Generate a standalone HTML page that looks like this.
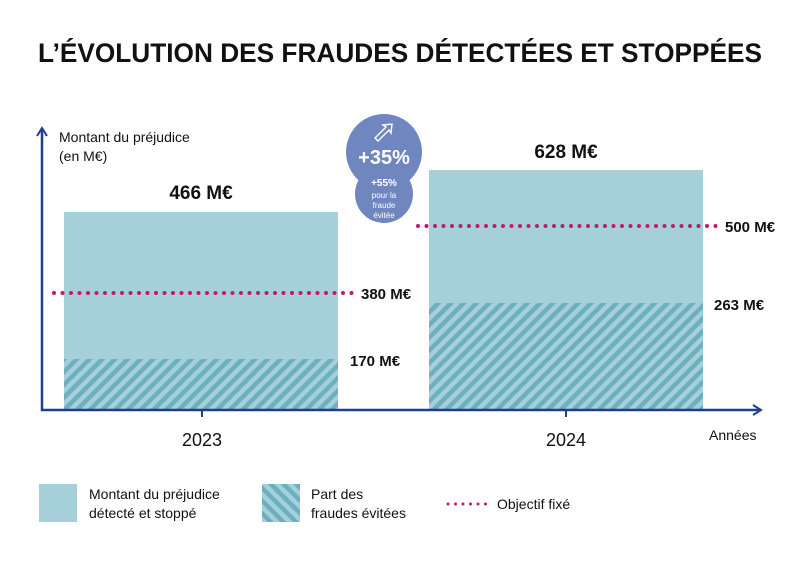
<!DOCTYPE html>
<html><head><meta charset="utf-8"><style>
body{margin:0;background:#fff;}
svg{display:block;font-family:"Liberation Sans",sans-serif;}
</style></head><body>
<svg width="800" height="561" viewBox="0 0 800 561" xmlns="http://www.w3.org/2000/svg">
<defs>
<pattern id="h1" width="9" height="9" patternUnits="userSpaceOnUse" patternTransform="rotate(45)">
<rect width="9" height="9" fill="#a5d0da"/><rect width="4.5" height="9" fill="#6cb0bf"/>
</pattern>
<pattern id="h2" width="9" height="9" patternUnits="userSpaceOnUse" patternTransform="rotate(-45)">
<rect width="9" height="9" fill="#a5d0da"/><rect width="4.5" height="9" fill="#6cb0bf"/>
</pattern>
</defs>
<rect width="800" height="561" fill="#fff"/>
<text x="38" y="62" textLength="724" lengthAdjust="spacingAndGlyphs" font-size="27" font-weight="bold" fill="#111">L’ÉVOLUTION DES FRAUDES DÉTECTÉES ET STOPPÉES</text>
<rect x="64" y="212" width="274" height="198" fill="#a5d0da"/>
<rect x="64" y="359" width="274" height="51" fill="url(#h1)"/>
<rect x="429" y="170" width="274" height="240" fill="#a5d0da"/>
<rect x="429" y="303" width="274" height="107" fill="url(#h1)"/>
<line x1="42" y1="130" x2="42" y2="411" stroke="#1f3e8c" stroke-width="2.5"/>
<polyline points="37,136 42,128 47,136" fill="none" stroke="#1f3e8c" stroke-width="2"/>
<line x1="41" y1="410" x2="760" y2="410" stroke="#1f3e8c" stroke-width="2.5"/>
<polyline points="753,405 761,410 753,415" fill="none" stroke="#1f3e8c" stroke-width="2"/>
<line x1="202" y1="410" x2="202" y2="417" stroke="#1f3e8c" stroke-width="2"/>
<line x1="566" y1="410" x2="566" y2="417" stroke="#1f3e8c" stroke-width="2"/>
<line x1="54" y1="293" x2="352" y2="293" stroke="#c0196f" stroke-width="4" stroke-linecap="round" stroke-dasharray="0 8.5"/>
<line x1="418" y1="226" x2="716" y2="226" stroke="#c0196f" stroke-width="4" stroke-linecap="round" stroke-dasharray="0 8.5"/>
<text x="59" y="142" font-size="14" fill="#111">Montant du préjudice</text>
<text x="59" y="161" font-size="14" fill="#111">(en M€)</text>
<text x="201" y="199" text-anchor="middle" font-size="19" font-weight="bold" fill="#111">466 M€</text>
<text x="566" y="158" text-anchor="middle" font-size="19" font-weight="bold" fill="#111">628 M€</text>
<text x="361" y="299" font-size="15" font-weight="bold" fill="#111">380 M€</text>
<text x="350" y="366" font-size="15" font-weight="bold" fill="#111">170 M€</text>
<text x="725" y="232" font-size="15" font-weight="bold" fill="#111">500 M€</text>
<text x="714" y="310" font-size="15" font-weight="bold" fill="#111">263 M€</text>
<text x="202" y="446" text-anchor="middle" font-size="18" fill="#111">2023</text>
<text x="566" y="446" text-anchor="middle" font-size="18" fill="#111">2024</text>
<text x="709" y="440" font-size="14" fill="#111">Années</text>
<circle cx="384" cy="194" r="29" fill="#6f86be"/>
<circle cx="384" cy="152" r="38" fill="#6f86be"/>
<g fill="none" stroke="#fff" stroke-width="1.4">
<polygon points="375,138 386,127 383,125 392,124 391,133 389,130 378,141"/>
</g>
<text x="384" y="164" text-anchor="middle" font-size="20" font-weight="bold" fill="#fff">+35%</text>
<text x="384" y="186" text-anchor="middle" font-size="10" font-weight="bold" fill="#fff">+55%</text>
<text x="384" y="198" text-anchor="middle" font-size="8" fill="#fff">pour la</text>
<text x="384" y="208" text-anchor="middle" font-size="8" fill="#fff">fraude</text>
<text x="384" y="218" text-anchor="middle" font-size="8" fill="#fff">évitée</text>
<rect x="39" y="484" width="38" height="38" fill="#a5d0da"/>
<text x="89" y="499" font-size="14" fill="#111">Montant du préjudice</text>
<text x="89" y="518" font-size="14" fill="#111">détecté et stoppé</text>
<rect x="262" y="484" width="38" height="38" fill="url(#h2)"/>
<text x="311" y="499" font-size="14" fill="#111">Part des</text>
<text x="311" y="518" font-size="14" fill="#111">fraudes évitées</text>
<line x1="448" y1="504" x2="486" y2="504" stroke="#c0196f" stroke-width="3" stroke-linecap="round" stroke-dasharray="0 7.5"/>
<text x="497" y="509" font-size="14" fill="#111">Objectif fixé</text>
</svg>
</body></html>
